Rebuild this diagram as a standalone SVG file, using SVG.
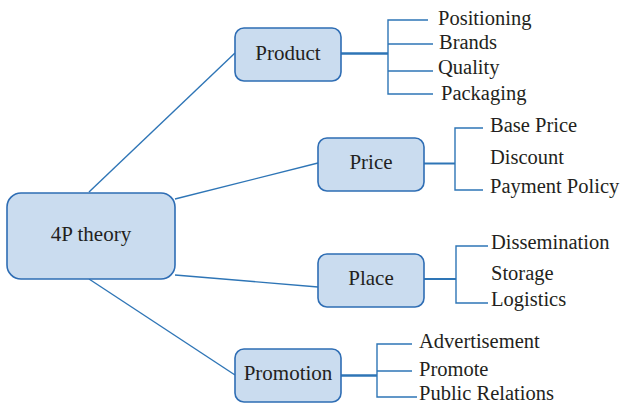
<svg xmlns="http://www.w3.org/2000/svg" width="622" height="406" viewBox="0 0 622 406">
<style>
.box{fill:#cadcef;stroke:#2e6db4;stroke-width:1.6}
.ln{fill:none;stroke:#2e75b6;stroke-width:1.4}
.thk{fill:none;stroke:#2e75b6;stroke-width:2.6}
.mid{fill:none;stroke:#2e75b6;stroke-width:2}
text{font-family:'Liberation Serif','Times New Roman',serif;fill:#231f20}
.nt{font-size:21px;text-anchor:middle}
.lt{font-size:20.5px}
</style>
<rect width="622" height="406" fill="#ffffff"/>
<g id="connectors">
<line class="ln" x1="89" y1="192" x2="235" y2="53"/>
<line class="ln" x1="175" y1="199" x2="318" y2="163"/>
<line class="ln" x1="175" y1="275" x2="318" y2="287"/>
<line class="ln" x1="89" y1="279" x2="235" y2="375"/>
<line class="thk" x1="341" y1="53.5" x2="388" y2="53.5"/>
<path class="ln" d="M428 20H388V94H433M388 44H433M388 71H433"/>
<line class="mid" x1="424" y1="163.5" x2="455" y2="163.5"/>
<path class="ln" d="M483 128H455V190H483"/>
<line class="mid" x1="424" y1="279" x2="456" y2="279"/>
<path class="ln" d="M488 246H456V303H488"/>
<line class="thk" x1="341" y1="375.5" x2="377" y2="375.5"/>
<path class="ln" d="M412 344H377V397H417M377 371H412"/>
</g>
<g id="node-4p"><rect class="box" x="7" y="193" width="168" height="86" rx="14"/><text class="nt" x="91" y="241">4P theory</text></g>
<g id="node-product"><rect class="box" x="235" y="28" width="106" height="53" rx="9"/><text class="nt" x="288" y="60">Product</text></g>
<g id="node-price"><rect class="box" x="318" y="138" width="106" height="53" rx="9"/><text class="nt" x="371" y="169">Price</text></g>
<g id="node-place"><rect class="box" x="318" y="254" width="106" height="53" rx="9"/><text class="nt" x="371" y="285">Place</text></g>
<g id="node-promotion"><rect class="box" x="235" y="349" width="106" height="53" rx="9"/><text class="nt" x="288" y="380">Promotion</text></g>
<g id="leaves-product">
<text class="lt" x="438" y="25">Positioning</text>
<text class="lt" x="439" y="49">Brands</text>
<text class="lt" x="438" y="74">Quality</text>
<text class="lt" x="441" y="100">Packaging</text>
</g>
<g id="leaves-price">
<text class="lt" x="490" y="132">Base Price</text>
<text class="lt" x="490" y="164">Discount</text>
<text class="lt" x="490" y="193">Payment Policy</text>
</g>
<g id="leaves-place">
<text class="lt" x="491" y="249">Dissemination</text>
<text class="lt" x="491" y="280">Storage</text>
<text class="lt" x="491" y="306">Logistics</text>
</g>
<g id="leaves-promotion">
<text class="lt" x="419" y="348">Advertisement</text>
<text class="lt" x="419" y="376">Promote</text>
<text class="lt" x="419" y="400">Public Relations</text>
</g>
</svg>
